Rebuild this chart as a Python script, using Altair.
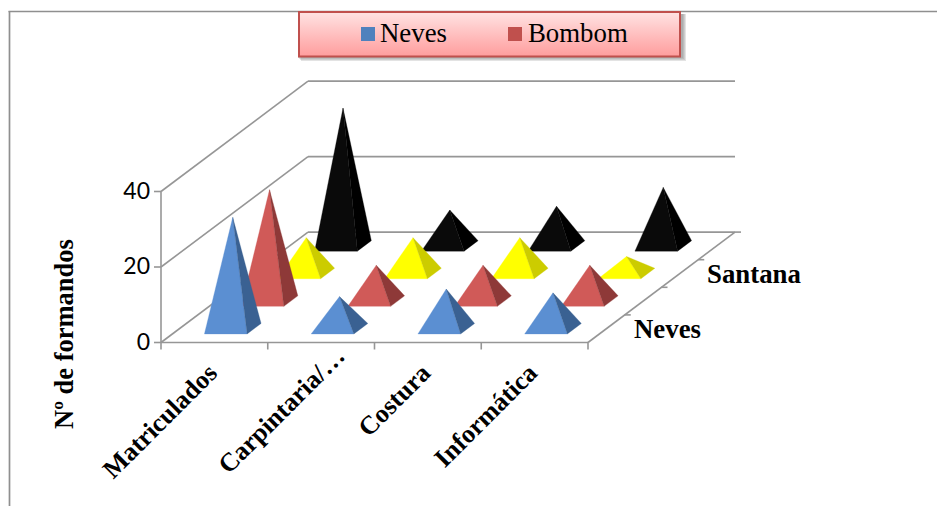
import altair as alt
import pandas as pd

# Chart content
categories = ["Matriculados", "Carpintaria/…", "Costura", "Informática"]
series_names = ["Neves", "Bombom", "", "Santana"]
neves = [29.5, 8.5, 10.5, 9.5]
bombom = [29.5, 9.5, 9.5, 9.5]
terceira = [9.5, 9.5, 9.5, 4.5]
santana = [36.5, 9.5, 10.5, 15.5]
series_values = [neves, bombom, terceira, santana]
front_colors = ["#5b8fd2", "#d05a58", "#ffff00", "#0a0a0a"]
side_colors = ["#3a6192", "#8e3938", "#cccc00", "#000000"]
value_ticks = [0, 20, 40]

# Oblique projection of (category, depth, value) onto the page
X0, Y0 = 161.0, 342.5
CAT_STEP = 106.75
DX, DY = 36.75, -27.6
UNIT = 3.775
BASE_W, BASE_D = 0.40, 0.38


def project(cat, depth, value=0.0):
    return X0 + cat * CAT_STEP + depth * DX, Y0 + depth * DY - value * UNIT


faces = []
for j in range(len(series_names) - 1, -1, -1):
    for i, v in enumerate(series_values[j]):
        cx, cd = i + 0.5, j + 0.5
        apex = project(cx, cd, v)
        fl = project(cx - BASE_W / 2, cd - BASE_D / 2)
        fr = project(cx + BASE_W / 2, cd - BASE_D / 2)
        br = project(cx + BASE_W / 2, cd + BASE_D / 2)
        for name, pts, col in (("front", [fl, fr, apex, fl], front_colors[j]),
                               ("side", [fr, br, apex, fr], side_colors[j])):
            for k, (px, py) in enumerate(pts):
                faces.append({"face": f"{j}-{i}-{name}", "x": px, "y": py, "k": k, "col": col})
faces = pd.DataFrame(faces)

# Wall and floor lines
wall = []


def seg(a, b):
    wall.append({"id": len(wall), "x": a[0], "y": a[1], "x2": b[0], "y2": b[1]})


for v in value_ticks:
    seg(project(0, 0, v), project(0, 4, v))
    seg(project(0, 4, v), project(4, 4, v))
    seg((X0 - 7, project(0, 0, v)[1]), project(0, 0, v))
seg(project(0, 0), project(0, 0, 40))
seg(project(0, 0), project(4, 0))
seg(project(4, 0), project(4, 4))
for i in range(5):
    a = project(i, 0)
    seg(a, (a[0], a[1] + 7))
for d in range(1, 5):
    a = project(4, d)
    seg(a, (a[0] + 6, a[1]))
wall = pd.DataFrame(wall)

x_scale = alt.Scale(domain=[0, 937], range=[0, 937])
y_scale = alt.Scale(domain=[0, 506], range=[0, 506])
X = alt.X("x:Q", scale=x_scale, axis=None)
Y = alt.Y("y:Q", scale=y_scale, axis=None)

wall_layer = alt.Chart(wall).mark_rule(color="#969696", strokeWidth=1.6).encode(
    X, Y, x2="x2:Q", y2="y2:Q")

pyramids = alt.Chart(faces).mark_line(strokeWidth=0.3, interpolate="linear").encode(
    X, Y,
    order="k:Q",
    detail="face:N",
    stroke=alt.Stroke("col:N", scale=None),
    fill=alt.Fill("col:N", scale=None),
)

# Chart frame
frame = pd.DataFrame([
    {"x": 8.5, "y": 11.5, "x2": 937, "y2": 11.5},
    {"x": 9.5, "y": 11, "x2": 9.5, "y2": 506},
])
frame_layer = alt.Chart(frame).mark_rule(color="#8f8f8f", strokeWidth=1.7).encode(
    X, Y, x2="x2:Q", y2="y2:Q")

# Axis text
ytick_df = pd.DataFrame([{"x": X0 - 11, "y": project(0, 0, v)[1], "t": str(v)} for v in value_ticks])
ytick_layer = alt.Chart(ytick_df).mark_text(
    font="Lato", fontSize=23, align="right", baseline="middle", color="#000000"
).encode(X, Y, text="t:N")

# The truncated label ends further along its slant than the others
label_shift = {"Carpintaria/…": (21, -17)}
cat_df = pd.DataFrame([
    {"x": project(i + 0.5, 0)[0] - 1.5 + label_shift.get(c, (0, 0))[0],
     "y": 369 + label_shift.get(c, (0, 0))[1], "t": c}
    for i, c in enumerate(categories)
])
cat_layer = alt.Chart(cat_df).mark_text(
    font="Liberation Serif", fontSize=26, fontWeight="bold", angle=315,
    align="right", baseline="middle", color="#000000"
).encode(X, Y, text="t:N")

depth_df = pd.DataFrame([
    {"x": 634, "y": 330, "t": series_names[0]},
    {"x": 707, "y": 275, "t": series_names[3]},
])
depth_layer = alt.Chart(depth_df).mark_text(
    font="Liberation Serif", fontSize=26.8, fontWeight="bold", align="left",
    baseline="middle", color="#000000"
).encode(X, Y, text="t:N")

ytitle_layer = alt.Chart(pd.DataFrame([{"x": 65, "y": 334, "t": "Nº de formandos"}])).mark_text(
    font="Liberation Serif", fontSize=26.5, fontWeight="bold", angle=270,
    align="center", baseline="middle", color="#000000"
).encode(X, Y, text="t:N")

# Legend box with soft shadow
shadow_df = pd.DataFrame([
    {"x": 298 + s, "x2": 683 + s, "y": 14, "y2": 58 + s} for s in (3, 2, 1, 0)
])
shadow_layer = alt.Chart(shadow_df).mark_rect(color="#808080", opacity=0.22).encode(
    X, Y, x2="x2:Q", y2="y2:Q")
box_layer = alt.Chart(pd.DataFrame([{"x": 299, "x2": 680, "y": 12, "y2": 56.5}])).mark_rect(
    fill=alt.Gradient(
        gradient="linear", x1=0, y1=0, x2=0, y2=1,
        stops=[alt.GradientStop(color="#ffe3e3", offset=0),
               alt.GradientStop(color="#ffbcbc", offset=0.55),
               alt.GradientStop(color="#ff9d9d", offset=1)]),
    stroke="#c0504d", strokeWidth=2
).encode(X, Y, x2="x2:Q", y2="y2:Q")

legend_names = ["Neves", "Bombom"]
legend_swatch = ["#4f81bd", "#c0504d"]
swatch_df = pd.DataFrame([
    {"x": 361, "x2": 375, "y": 27, "y2": 41, "col": legend_swatch[0]},
    {"x": 508, "x2": 522, "y": 27, "y2": 41, "col": legend_swatch[1]},
])
swatch_layer = alt.Chart(swatch_df).mark_rect().encode(
    X, Y, x2="x2:Q", y2="y2:Q", fill=alt.Fill("col:N", scale=None))
legend_text = alt.Chart(pd.DataFrame([
    {"x": 380, "y": 33.5, "t": legend_names[0]},
    {"x": 528, "y": 33.5, "t": legend_names[1]},
])).mark_text(
    font="Liberation Serif", fontSize=26.8, align="left", baseline="middle", color="#000000"
).encode(X, Y, text="t:N")

chart = alt.layer(
    frame_layer, wall_layer, pyramids, ytick_layer, cat_layer, depth_layer, ytitle_layer,
    shadow_layer, box_layer, swatch_layer, legend_text
).properties(
    width=937, height=506, padding=0, background="#ffffff",
    autosize=alt.AutoSizeParams(type="none")
).configure_view(stroke=None)

chart.save("out.html", embed_options={"renderer": "svg", "actions": False})
